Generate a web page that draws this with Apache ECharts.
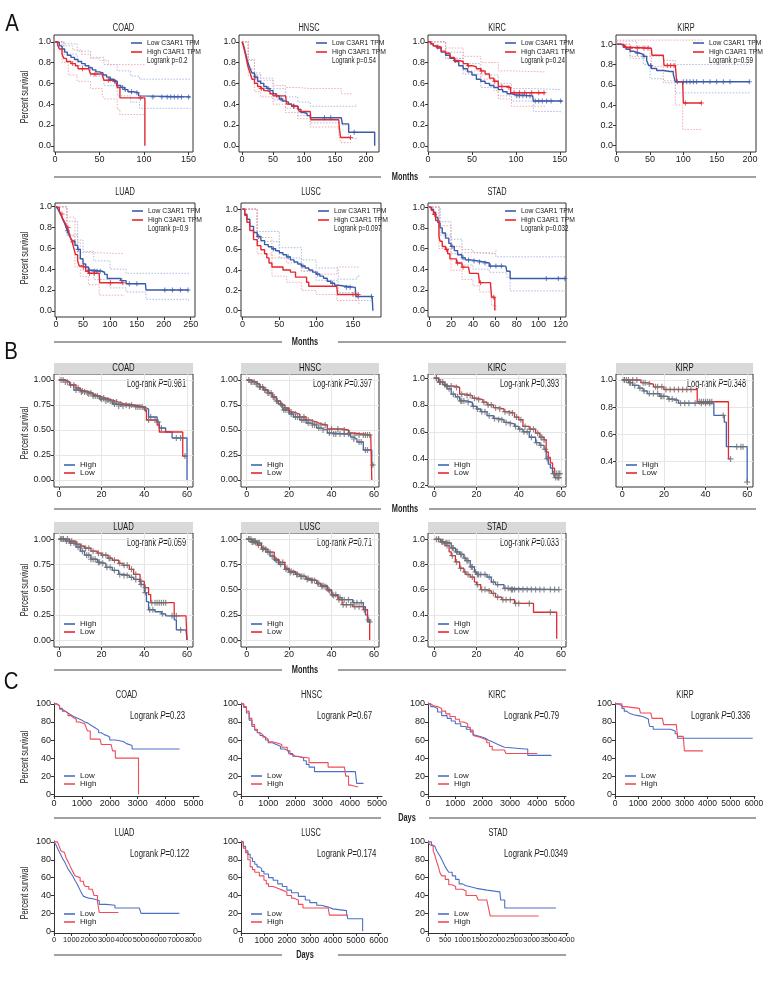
<!DOCTYPE html>
<html><head><meta charset="utf-8">
<script src="https://cdn.jsdelivr.net/npm/echarts@6/dist/echarts.min.js"></script>
<style>html,body{margin:0;padding:0;background:#fff}#c{width:780px;height:984px}</style>
</head><body><div id="c"></div>
<script>
// ---------------- DATA ----------------
const cancers = ['COAD','HNSC','KIRC','KIRP','LUAD','LUSC','STAD'];
const A_pvals = ['0.2','0.54','0.24','0.59','0.9','0.097','0.032'];
const B_pvals = ['0.981','0.397','0.393','0.348','0.059','0.71','0.033'];
const C_pvals = ['0.23','0.67','0.79','0.336','0.122','0.174','0.0349'];

// Panel A (GEPIA, months, fraction)
const A_COAD_low = [[0,1],[2,0.99],[5,0.96],[8,0.93],[11,0.9],[14,0.87],[18,0.85],[22,0.83],[26,0.81],[30,0.79],[34,0.77],[38,0.75],[42,0.73],[46,0.71],[50,0.7],[54,0.68],[58,0.66],[62,0.64],[66,0.62],[70,0.58],[74,0.56],[78,0.54],[82,0.52],[88,0.51],[94,0.48],[96,0.47],[152,0.47]];
const A_COAD_high = [[0,1],[3,0.97],[5,0.93],[8,0.88],[10,0.84],[13,0.81],[18,0.79],[23,0.77],[26,0.74],[38,0.74],[40,0.69],[53,0.69],[55,0.63],[68,0.63],[70,0.56],[73,0.46],[101,0.46],[101,0]];
const A_COAD_lowU = [[0,1],[10,0.98],[25,0.91],[40,0.85],[55,0.78],[70,0.72],[85,0.67],[95,0.64],[152,0.64]];
const A_COAD_lowL = [[0,1],[10,0.88],[25,0.77],[40,0.67],[55,0.58],[70,0.48],[85,0.42],[95,0.36],[152,0.36]];
const A_COAD_highU = [[0,1],[10,0.96],[20,0.92],[30,0.88],[40,0.84],[50,0.82],[60,0.78],[101,0.78]];
const A_COAD_highL = [[0,1],[8,0.8],[15,0.68],[25,0.62],[40,0.55],[53,0.5],[55,0.45],[70,0.35],[73,0.3],[101,0.3]];
const A_COAD_lowCens = [62,67,76,79,86,92,110,120,126,130,134,138,142,150];
const A_COAD_highCens = [20,31,45,60,96];

const A_HNSC_low = [[0,1],[2,0.97],[4,0.93],[6,0.88],[8,0.83],[10,0.79],[13,0.74],[16,0.7],[20,0.66],[25,0.62],[30,0.6],[35,0.57],[40,0.55],[45,0.53],[50,0.5],[55,0.48],[60,0.45],[65,0.43],[70,0.42],[75,0.4],[80,0.38],[90,0.35],[95,0.32],[100,0.31],[105,0.29],[110,0.27],[160,0.27],[162,0.21],[172,0.13],[214,0.13],[214,0]];
const A_HNSC_high = [[0,1],[2,0.96],[4,0.91],[6,0.86],[8,0.8],[10,0.75],[13,0.7],[16,0.64],[20,0.6],[25,0.57],[30,0.55],[35,0.53],[40,0.52],[45,0.5],[50,0.48],[70,0.48],[72,0.4],[80,0.38],[90,0.38],[92,0.33],[110,0.33],[111,0.25],[156,0.25],[157,0.17],[159,0.08],[176,0.08]];
const A_HNSC_lowU = [[0,1],[10,0.83],[20,0.7],[30,0.65],[50,0.55],[70,0.47],[90,0.42],[110,0.38],[160,0.38],[184,0.4]];
const A_HNSC_lowL = [[0,1],[10,0.74],[20,0.61],[30,0.55],[50,0.44],[70,0.36],[90,0.29],[110,0.22],[160,0.2],[172,0.07],[184,0.06]];
const A_HNSC_highU = [[0,1],[10,0.82],[20,0.68],[30,0.63],[50,0.58],[70,0.56],[90,0.55],[110,0.55],[160,0.5],[176,0.49]];
const A_HNSC_highL = [[0,1],[10,0.67],[20,0.52],[30,0.47],[50,0.4],[70,0.32],[90,0.26],[110,0.18],[156,0.12],[159,0.03],[176,0.03]];
const A_HNSC_lowCens = [22,42,63,83,133,143,181];
const A_HNSC_highCens = [31,56,84,175];

const A_KIRC_low = [[0,1],[3,0.98],[6,0.96],[10,0.94],[15,0.9],[20,0.87],[25,0.84],[30,0.81],[35,0.77],[40,0.74],[45,0.71],[50,0.68],[55,0.64],[60,0.62],[65,0.6],[70,0.58],[75,0.56],[80,0.54],[85,0.52],[90,0.5],[95,0.49],[100,0.48],[119,0.48],[120,0.43],[152,0.42]];
const A_KIRC_high = [[0,1],[3,0.98],[6,0.96],[10,0.95],[15,0.91],[20,0.89],[25,0.85],[30,0.82],[35,0.81],[40,0.79],[45,0.77],[50,0.76],[55,0.74],[60,0.72],[65,0.69],[70,0.65],[75,0.62],[80,0.57],[90,0.56],[94,0.51],[133,0.51]];
const A_KIRC_lowU = [[0,1],[20,0.9],[40,0.79],[60,0.68],[80,0.6],[95,0.55],[120,0.54],[152,0.54]];
const A_KIRC_lowL = [[0,1],[20,0.84],[40,0.69],[60,0.56],[80,0.48],[95,0.43],[120,0.33],[152,0.32]];
const A_KIRC_highU = [[0,1],[20,0.94],[40,0.86],[60,0.8],[80,0.72],[95,0.71],[133,0.7]];
const A_KIRC_highL = [[0,1],[20,0.84],[40,0.72],[60,0.64],[75,0.53],[80,0.45],[95,0.38],[133,0.37]];
const A_KIRC_lowCens = [101,104,108,112,116,122,126,130,135,140,151];
const A_KIRC_highCens = [11,31,46,61,76,84,92,98,104,110,118,126,132];

const A_KIRP_low = [[0,1],[5,0.99],[10,0.97],[15,0.95],[20,0.93],[25,0.92],[30,0.91],[35,0.9],[40,0.88],[45,0.84],[48,0.79],[52,0.76],[60,0.74],[70,0.73],[80,0.73],[85,0.7],[88,0.63],[200,0.63]];
const A_KIRP_high = [[0,1],[8,0.99],[12,0.97],[18,0.96],[52,0.96],[53,0.89],[70,0.89],[71,0.79],[88,0.79],[90,0.63],[99,0.63],[100,0.42],[128,0.42]];
const A_KIRP_lowU = [[0,1.03],[30,0.98],[50,0.88],[70,0.84],[88,0.8],[200,0.8]];
const A_KIRP_lowL = [[0,1],[20,0.86],[40,0.8],[50,0.66],[70,0.62],[88,0.52],[200,0.51]];
const A_KIRP_highU = [[0,1.04],[128,1.04]];
const A_KIRP_highL = [[0,1],[20,0.88],[52,0.78],[70,0.64],[88,0.4],[99,0.16],[128,0.16]];
const A_KIRP_lowCens = [31,41,51,91,100,105,110,115,120,130,140,150,160,170,199];
const A_KIRP_highCens = [13,21,31,41,47,76,81,86,103,127];

const A_LUAD_low = [[0,1],[3,0.98],[6,0.95],[9,0.92],[12,0.88],[15,0.85],[18,0.81],[21,0.77],[24,0.73],[27,0.7],[30,0.67],[35,0.63],[40,0.59],[45,0.5],[50,0.45],[55,0.42],[60,0.39],[70,0.38],[85,0.37],[90,0.35],[95,0.31],[110,0.31],[120,0.29],[130,0.26],[166,0.26],[167,0.2],[246,0.2]];
const A_LUAD_high = [[0,1],[3,0.99],[6,0.96],[9,0.93],[12,0.89],[15,0.86],[18,0.83],[21,0.8],[24,0.75],[27,0.7],[30,0.66],[33,0.6],[36,0.54],[40,0.48],[43,0.43],[50,0.42],[55,0.38],[60,0.36],[80,0.36],[81,0.27],[125,0.27]];
const A_LUAD_lowU = [[0,1],[20,0.86],[40,0.68],[50,0.57],[70,0.48],[100,0.4],[130,0.36],[246,0.35]];
const A_LUAD_lowL = [[0,1],[20,0.73],[40,0.5],[50,0.38],[70,0.3],[100,0.22],[130,0.18],[167,0.11],[246,0.1]];
const A_LUAD_highU = [[0,1],[20,0.9],[35,0.66],[45,0.56],[60,0.55],[125,0.55]];
const A_LUAD_highL = [[0,1],[20,0.72],[35,0.42],[45,0.33],[60,0.25],[80,0.15],[125,0.14]];
const A_LUAD_lowCens = [21,41,62,71,76,82,122,136,150,202,216,231,245];
const A_LUAD_highCens = [11,22,31,51,62,71,101,124];

const A_LUSC_low = [[0,1],[3,0.95],[6,0.9],[10,0.83],[15,0.77],[20,0.73],[25,0.69],[30,0.65],[35,0.63],[40,0.61],[45,0.59],[50,0.57],[55,0.55],[60,0.53],[65,0.5],[70,0.48],[75,0.46],[80,0.44],[85,0.42],[90,0.4],[95,0.38],[100,0.36],[105,0.34],[110,0.32],[115,0.29],[120,0.27],[125,0.25],[130,0.24],[140,0.23],[153,0.22],[154,0.14],[176,0.13],[177,0]];
const A_LUSC_high = [[0,1],[3,0.94],[6,0.87],[10,0.79],[15,0.7],[20,0.64],[25,0.6],[30,0.56],[33,0.52],[36,0.47],[40,0.43],[50,0.43],[55,0.4],[65,0.38],[72,0.33],[87,0.28],[90,0.24],[128,0.24],[129,0.16],[158,0.16]];
const A_LUSC_lowU = [[0,1],[20,0.78],[50,0.62],[80,0.5],[100,0.42],[130,0.31],[155,0.33],[158,0.35]];
const A_LUSC_lowL = [[0,1],[20,0.68],[50,0.52],[80,0.39],[100,0.3],[130,0.18],[154,0.1],[176,0.08]];
const A_LUSC_highU = [[0,1],[20,0.72],[40,0.52],[60,0.47],[80,0.39],[100,0.36],[128,0.36],[129,0.43],[158,0.43]];
const A_LUSC_highL = [[0,1],[20,0.56],[40,0.34],[60,0.28],[80,0.2],[100,0.16],[128,0.1],[158,0.06]];
const A_LUSC_lowCens = [22,42,62,82,102,122,141,146,157,175];
const A_LUSC_highCens = [150,157];

const A_STAD_low = [[0,1],[2,0.98],[4,0.95],[6,0.9],[8,0.85],[10,0.8],[12,0.75],[15,0.7],[18,0.65],[20,0.62],[23,0.58],[26,0.54],[30,0.51],[33,0.49],[38,0.48],[45,0.47],[50,0.46],[55,0.43],[70,0.43],[71,0.38],[74,0.31],[125,0.31]];
const A_STAD_high = [[0,1],[2,0.97],[4,0.93],[6,0.87],[9,0.72],[10,0.67],[12,0.62],[15,0.59],[17,0.55],[19,0.5],[22,0.5],[25,0.46],[30,0.42],[36,0.42],[37,0.36],[45,0.36],[46,0.27],[56,0.27],[57,0.13],[60,0.13],[60,0]];
const A_STAD_lowU = [[0,1],[10,0.86],[20,0.69],[30,0.59],[40,0.56],[55,0.55],[61,0.52],[125,0.52]];
const A_STAD_lowL = [[0,1],[10,0.73],[20,0.55],[30,0.44],[40,0.4],[55,0.37],[71,0.32],[74,0.19],[125,0.19]];
const A_STAD_highU = [[0,1],[9,0.82],[20,0.62],[30,0.56],[40,0.55],[57,0.55],[61,0.58]];
const A_STAD_highL = [[0,1],[9,0.6],[20,0.39],[30,0.3],[40,0.24],[46,0.18],[57,0.05],[61,0]];
const A_STAD_lowCens = [21,31,36,41,46,51,56,61,66,107,118,124];
const A_STAD_highCens = [5,16,26,31,47,59];

// Panel B (months, fraction)
const B_COAD_high = [[0,1],[3,0.98],[5,0.95],[7,0.9],[10,0.88],[13,0.86],[16,0.84],[19,0.81],[22,0.79],[25,0.76],[27,0.74],[35,0.73],[40,0.71],[42,0.63],[46,0.58],[47,0.52],[50,0.48],[53,0.42],[60,0]];
const B_COAD_low = [[0,1],[3,0.98],[5,0.95],[8,0.92],[10,0.89],[13,0.87],[16,0.84],[19,0.82],[22,0.8],[25,0.78],[28,0.76],[31,0.75],[35,0.73],[40,0.7],[41,0.6],[46,0.55],[47,0.48],[58,0.24],[60,0.24]];
const B_COAD_highCens = [1,3,5.5,8,10.5,12,14,16,18,20,22,24,26,28,30,33,36,38,40.5,43,46.5,48,55,57];
const B_COAD_lowCens = [2,4,7,9,11,13.5,15,17,19.5,21,23,25.5,27,29,31.5,34,37,39,42,45,59];

const B_HNSC_high = [[0,1],[2,0.98],[4,0.96],[6,0.93],[8,0.9],[10,0.87],[12,0.83],[14,0.79],[15,0.76],[17,0.7],[20,0.66],[22,0.63],[25,0.6],[28,0.57],[30,0.55],[33,0.52],[35,0.5],[38,0.47],[40,0.46],[47,0.46],[49,0.43],[50,0.41],[52,0.38],[55,0.3],[58,0.3],[59,0.15],[60,0.15]];
const B_HNSC_low = [[0,1],[2,0.98],[4,0.96],[6,0.93],[8,0.9],[10,0.87],[12,0.83],[14,0.79],[16,0.75],[18,0.72],[20,0.68],[22,0.66],[25,0.63],[28,0.6],[30,0.58],[33,0.56],[35,0.55],[38,0.51],[45,0.5],[48,0.47],[50,0.45],[58.5,0.45],[59,0]];
const B_HNSC_highCens = [1,2.5,3.5,5,6.5,7.5,9,10.5,11.5,13,14.5,16,17.5,18.5,19.5,21,23,24,26,27,29,31,32,34,36,39,41,42,44,46,48,50.5,53,54,56,57,59.5];
const B_HNSC_lowCens = [2,4.5,6,8.5,10,12.5,14,16.5,18,21,23,25,27,29,31,33,35,37,40,43,46,48.5,51,53,55,56,57,58];

const B_KIRC_high = [[0,1],[2,0.97],[4,0.95],[6,0.92],[8,0.88],[10,0.86],[12,0.83],[15,0.82],[18,0.79],[20,0.77],[22,0.75],[25,0.72],[28,0.7],[30,0.69],[33,0.67],[35,0.66],[38,0.64],[40,0.62],[42,0.6],[45,0.56],[48,0.52],[50,0.5],[52,0.47],[53,0.4],[54,0.36],[55,0.33],[56,0.29],[60,0.29]];
const B_KIRC_low = [[0,1],[2,0.97],[5,0.94],[10,0.93],[12,0.88],[15,0.87],[18,0.85],[20,0.84],[23,0.82],[25,0.8],[28,0.78],[30,0.77],[33,0.75],[35,0.74],[38,0.71],[40,0.69],[42,0.64],[45,0.62],[48,0.59],[50,0.56],[52,0.54],[53,0.45],[54,0.41],[55,0.37],[56,0.33],[57,0.26],[60,0.26]];
const B_KIRC_highCens = [1,2.5,3,5,7,9,11,12.5,13,14,16,18.5,20.5,22.5,24,26,28.5,30.5,32,34,36,38.5,40.5,42.5,44,46,48.5,50.5,52.5,53.5,56.5,57,58,59,59.5];
const B_KIRC_lowCens = [1,2.5,4,6,8,10.5,13,15.5,17,19,21,23.5,25.5,27,29,31,33.5,35.5,37,39,41,43,45.5,47,49,50.5,51,52,57.5,58.5,59];

const B_KIRP_high = [[0,1],[3,0.98],[5,0.96],[8,0.94],[10,0.92],[12,0.9],[18,0.88],[22,0.86],[25,0.85],[27,0.83],[43,0.83],[44,0.74],[48,0.74],[49,0.69],[50,0.51],[59,0.51],[60,0.25]];
const B_KIRP_low = [[0,1],[8,1],[9,0.98],[12,0.97],[15,0.95],[20,0.93],[35,0.93],[36,0.84],[50,0.84],[51,0.42],[52,0.42]];
const B_KIRP_highCens = [1,2,3.5,4,6,8.5,10.5,13,15,17,18.5,19,20,22.5,24,26,28,30,32,35,38,40,42,48.5,55,57,58,60];
const B_KIRP_lowCens = [1,3,5,7,10,11,13,16,17,19,21,23,25,27,29,31,33,37,38,39,40,41,42,43,52];

const B_LUAD_high = [[0,1],[3,0.98],[5,0.96],[8,0.92],[10,0.88],[12,0.84],[15,0.8],[18,0.77],[20,0.76],[22,0.72],[25,0.69],[28,0.65],[30,0.64],[33,0.62],[35,0.6],[38,0.55],[40,0.47],[41,0.38],[42,0.3],[45,0.28],[48,0.26],[50,0.24],[54,0.2],[55,0.1],[59.5,0.1],[60,0]];
const B_LUAD_low = [[0,1],[5,0.98],[8,0.95],[10,0.93],[12,0.91],[15,0.88],[18,0.86],[20,0.84],[23,0.81],[25,0.79],[28,0.76],[30,0.74],[33,0.7],[35,0.65],[38,0.58],[40,0.52],[42,0.45],[43,0.37],[53,0.37],[54,0.24],[59.5,0.24],[60,0]];
const B_LUAD_highCens = [1,2,3.5,5.5,7,9,11,13,14,15,16,17,18.5,19,20.5,22.5,24,26,28.5,30.5,32,34,36,38.5,40.5,42.5,44,48.5,53,57];
const B_LUAD_lowCens = [1,2,4,6,8.5,10.5,12.5,14,16,18.5,20.5,22,23.5,24,26,28.5,30.5,32,34,36,38.5,40.5,43.5,45,46,47,48,49,50,55];

const B_LUSC_high = [[0,1],[3,0.98],[5,0.96],[7,0.91],[9,0.87],[11,0.83],[13,0.79],[15,0.75],[18,0.7],[20,0.67],[23,0.65],[25,0.63],[28,0.6],[30,0.59],[33,0.56],[35,0.54],[38,0.5],[40,0.45],[43,0.42],[45,0.4],[50,0.37],[55,0.33],[56,0.25],[57,0.18],[58.5,0.18]];
const B_LUSC_low = [[0,1],[2,0.97],[5,0.94],[7,0.9],[10,0.87],[13,0.8],[15,0.77],[18,0.71],[20,0.68],[23,0.65],[25,0.63],[28,0.61],[30,0.59],[33,0.56],[35,0.53],[38,0.49],[40,0.44],[43,0.4],[45,0.35],[50,0.33],[55,0.3],[57,0.2],[58,0.2],[58,0]];
const B_LUSC_highCens = [1,2,3.5,4,5.5,6,8,10,12,14,16,18.5,20.5,22,24,26,28.5,30.5,32,34,36,38.5,40.5,42,44,46,48,50.5,52,54,58];
const B_LUSC_lowCens = [1,2.5,3,4,5.5,7.5,9,11,13.5,15.5,17,19,21,23.5,25.5,27,29,31,33.5,35.5,37,39,41,43.5,45.5,47,49,51,53,55.5,57.5];

const B_STAD_high = [[0,1],[3,0.98],[5,0.97],[8,0.93],[10,0.9],[12,0.88],[14,0.85],[15,0.83],[17,0.78],[19,0.74],[20,0.72],[25,0.7],[27,0.66],[29,0.64],[33,0.61],[36,0.6],[59,0.6]];
const B_STAD_low = [[0,1],[3,0.98],[5,0.95],[7,0.9],[8,0.87],[10,0.82],[12,0.77],[14,0.74],[15,0.72],[17,0.7],[19,0.66],[20,0.64],[22,0.6],[25,0.59],[27,0.57],[29,0.54],[32,0.52],[38,0.49],[47,0.42],[58,0.42],[58,0.21]];
const B_STAD_highCens = [1,2,3.5,4,5.5,6,7,8.5,9,10.5,11,12.5,13,14.5,15.5,16,17.5,18,19.5,20.5,21,22,24,26,28,30,33.5,35,36.5,37,38,40,42,44,46,48,50,52,55,57,59];
const B_STAD_lowCens = [2,4,6,8.5,10.5,12.5,14.5,16,18,20.5,22.5,24,26,28,30,32.5,34,36,38.5,40,45,55];

// Panel C (days, percent)
const C_COAD_low = [[0,100],[100,98],[200,95],[300,92],[400,90],[500,88],[600,86],[700,84],[850,82],[1000,80],[1100,79],[1200,77],[1300,75],[1400,73],[1500,71],[1600,68],[1700,66],[1800,65],[1900,63],[2000,60],[2200,59],[2400,58],[2500,56],[2600,54],[2800,50],[4500,50]];
const C_COAD_high = [[0,100],[100,98],[200,94],[300,92],[400,90],[500,87],[600,85],[700,83],[800,80],[900,78],[1100,78],[1150,74],[1200,70],[1300,61],[1650,61],[1700,55],[2050,55],[2100,48],[2200,40],[3030,40],[3030,0]];
const C_HNSC_low = [[0,100],[100,96],[200,90],[300,82],[400,75],[500,71],[600,68],[700,65],[800,63],[900,60],[1000,57],[1150,55],[1300,53],[1450,50],[1600,48],[1750,45],[1900,42],[2100,40],[2300,37],[2400,33],[2500,30],[2700,25],[4200,25],[4250,12],[4500,12]];
const C_HNSC_high = [[0,100],[100,97],[200,92],[300,84],[400,77],[500,72],[600,68],[700,66],[800,63],[900,61],[1000,58],[1150,57],[1300,55],[1500,52],[1700,48],[1800,44],[1900,42],[2000,40],[2500,35],[3200,30],[3800,30],[3850,20],[3950,10],[4050,8],[4300,8]];
const C_KIRC_low = [[0,100],[100,97],[200,95],[350,91],[500,87],[700,84],[850,81],[1000,78],[1200,75],[1400,72],[1550,69],[1650,66],[1700,64],[1900,63],[2000,62],[2100,60],[2200,58],[2350,56],[2500,54],[2650,52],[2800,50],[3550,50],[3650,43],[4500,42]];
const C_KIRC_high = [[0,100],[100,98],[200,97],[350,95],[500,92],[650,89],[800,86],[1000,83],[1150,80],[1300,78],[1450,74],[1550,71],[1650,65],[1700,63],[1900,62],[2000,60],[2150,57],[2250,53],[2350,49],[2800,49],[2850,45],[4000,45]];
const C_KIRP_low = [[0,100],[150,98],[300,95],[400,92],[500,90],[600,88],[800,87],[1000,86],[1200,85],[1300,83],[1450,80],[1500,75],[1650,72],[2300,72],[2400,70],[2600,67],[2700,62],[5950,62]];
const C_KIRP_high = [[0,100],[300,97],[450,95],[1050,95],[1100,90],[1550,90],[1600,84],[2050,84],[2100,77],[2650,77],[2700,64],[2950,64],[3000,48],[3800,48]];
const C_LUAD_low = [[0,100],[100,97],[200,93],[300,89],[400,85],[500,81],[600,78],[700,74],[800,70],[900,67],[1000,64],[1100,61],[1200,57],[1300,54],[1400,50],[1500,46],[1600,42],[1700,39],[1800,37],[2000,36],[2300,35],[2400,34],[2600,30],[3000,29],[3500,26],[4900,26],[5000,20],[7200,20]];
const C_LUAD_high = [[0,100],[200,98],[300,95],[400,90],[500,88],[600,86],[700,82],[800,78],[900,74],[1000,70],[1100,66],[1200,62],[1300,60],[1500,56],[1700,53],[1800,50],[2000,47],[2200,45],[2300,40],[2500,33],[2600,21],[3700,21]];
const C_LUSC_low = [[0,100],[100,95],[200,90],[300,86],[400,82],[500,78],[600,75],[700,72],[800,70],[900,67],[1000,64],[1200,60],[1400,57],[1600,53],[1800,50],[2000,46],[2200,43],[2500,39],[2800,35],[3000,32],[3300,29],[3500,27],[3800,25],[4000,23],[4600,20],[4650,14],[5300,14],[5300,0]];
const C_LUSC_high = [[0,100],[100,93],[200,88],[300,80],[400,72],[500,69],[600,66],[800,62],[1000,57],[1100,53],[1200,50],[1400,48],[1600,46],[1800,44],[2000,40],[2200,37],[2300,35],[2500,30],[2700,26],[3800,26],[3850,18],[4650,18]];
const C_STAD_low = [[0,100],[100,97],[150,95],[200,93],[250,90],[300,87],[350,84],[400,80],[450,76],[500,72],[550,69],[600,66],[700,62],[800,58],[900,53],[1000,51],[1100,50],[1200,48],[1400,46],[1700,44],[2080,44],[2100,35],[2220,26],[3700,26]];
const C_STAD_high = [[0,100],[50,97],[100,95],[150,90],[200,85],[250,78],[300,72],[350,65],[400,62],[500,58],[600,52],[700,50],[800,47],[1000,45],[1100,40],[1400,40],[1450,35],[1700,35],[1750,26],[1800,17],[3200,17]];

// tick labels
const A_yTicks = [0,0.2,0.4,0.6,0.8,1.0];
const B_yTicks4 = [0,0.25,0.5,0.75,1.0];
const B_yTicks2 = [0.2,0.4,0.6,0.8,1.0];
const B_yTicksKIRP = [0.4,0.6,0.8,1.0];
const B_xTicks = [0,20,40,60];
const C_yTicks = [0,20,40,60,80,100];

// ---------------- RENDER ----------------
const FONT = "'Liberation Sans Narrow','Liberation Sans',Arial,sans-serif";
const SX = 0.74; // horizontal squeeze for free text (condensed look)
const A_BLUE='#3a5bab', A_RED='#e8262d', A_BLUE_CI='#a3b3de', A_RED_CI='#f3a2a6';
const B_BLUE='#3d67b3', B_RED='#e8262d', CENS='#707070';
const C_BLUE='#4c70c6', C_RED='#f04c5a';
const PLUS='path://M2,0H3V2H5V3H3V5H2V3H0V2H2Z';
function survAt(c,t){let s=c[0][1];for(let i=0;i<c.length;i++){if(c[i][0]<=t)s=c[i][1];else break;}return s;}

const option={animation:false,backgroundColor:'#fff',grid:[],xAxis:[],yAxis:[],series:[],legend:[],graphic:{elements:[]}};
const G=option.graphic.elements;

function addGrid(L,T,W,H,xr,yr,xt,yt,yfmt,kind,xfs){
  const gi=option.grid.length;
  option.grid.push({left:L,top:T,width:W,height:H,show:kind!=='C',borderColor:'#333',borderWidth:1,backgroundColor:'rgba(0,0,0,0)'});
  const lab={fontSize:9,fontFamily:FONT,color:'#222',margin:3};
  option.xAxis.push({gridIndex:gi,type:'value',min:xr[0],max:xr[1],
    axisLine:{show:kind==='C',onZero:false,lineStyle:{color:'#333',width:1}},
    axisTick:{show:true,length:3,customValues:xt,lineStyle:{color:'#333'}},
    axisLabel:Object.assign({},lab,{customValues:xt,formatter:v=>String(v),fontSize:xfs||9}),
    splitLine:{show:kind==='B',lineStyle:{color:'#e6e6e6',width:1}}});
  option.yAxis.push({gridIndex:gi,type:'value',min:yr[0],max:yr[1],
    axisLine:{show:kind==='C',onZero:false,lineStyle:{color:'#333',width:1}},
    axisTick:{show:true,length:3,customValues:yt,lineStyle:{color:'#333'}},
    axisLabel:Object.assign({},lab,{customValues:yt,formatter:yfmt}),
    splitLine:{show:kind==='B',lineStyle:{color:'#e6e6e6',width:1}}});
  return gi;
}
function addLine(gi,data,color,width,name,dotted){
  option.series.push({type:'line',name:name||undefined,xAxisIndex:gi,yAxisIndex:gi,data:data,step:'end',
    showSymbol:false,symbol:'none',silent:true,z:dotted?2:3,
    lineStyle:{color:color,width:width,type:dotted?[1.5,1.5]:'solid'},itemStyle:{color:color}});
}
function addCens(gi,curve,times,color,size){
  option.series.push({type:'scatter',xAxisIndex:gi,yAxisIndex:gi,silent:true,z:4,
    data:times.map(t=>[t,survAt(curve,t)]),symbol:PLUS,symbolSize:size,itemStyle:{color:color}});
}
function text(x,y,str,opt,sx){
  G.push({type:'text',x:x,y:y,scaleX:sx===undefined?SX:sx,silent:true,style:Object.assign({text:str,fontSize:10,fontFamily:FONT,fill:'#222',align:'center',verticalAlign:'middle'},opt||{})});
}
function hline(x1,x2,y){G.push({type:'line',silent:true,shape:{x1:x1,y1:y,x2:x2,y2:y},style:{stroke:'#444',lineWidth:1}});}
function ylab(y){G.push({type:'text',x:25,y:y,rotation:Math.PI/2,scaleX:SX,silent:true,style:{text:'Percent survival',fontSize:10,fontFamily:FONT,fill:'#222',align:'center',verticalAlign:'middle'}});}
function sepLabel(word,cx,y,l1,l2,r1,r2){hline(l1,l2,y);hline(r1,r2,y);text(cx,y,word,{fontWeight:'bold',fontSize:10});}
function legend(L,T,items,fs,lh,iw){
  option.legend.push({orient:'vertical',left:L,top:T,padding:0,itemWidth:iw,itemHeight:1.6,itemGap:0,icon:'rect',selectedMode:false,
    textStyle:{fontSize:fs,fontFamily:FONT,color:'#222',lineHeight:lh},
    data:items.map(it=>({name:it[0],itemStyle:{color:it[1],borderColor:it[1],borderWidth:0}}))});
}
function richP(x,y,pre,p,fs,align){
  G.push({type:'text',x:x,y:y,scaleX:SX,silent:true,style:{text:'{a|'+pre+'}{i|P}{a|='+p+'}',align:align,verticalAlign:'middle',
    rich:{a:{fontSize:fs,fontFamily:FONT,fill:'#222'},i:{fontSize:fs,fontFamily:FONT,fill:'#222',fontStyle:'italic'}}}});
}

// ---- Section A ----
const A_data = {
  COAD:[A_COAD_low,A_COAD_high,A_COAD_lowU,A_COAD_lowL,A_COAD_highU,A_COAD_highL,A_COAD_lowCens,A_COAD_highCens],
  HNSC:[A_HNSC_low,A_HNSC_high,A_HNSC_lowU,A_HNSC_lowL,A_HNSC_highU,A_HNSC_highL,A_HNSC_lowCens,A_HNSC_highCens],
  KIRC:[A_KIRC_low,A_KIRC_high,A_KIRC_lowU,A_KIRC_lowL,A_KIRC_highU,A_KIRC_highL,A_KIRC_lowCens,A_KIRC_highCens],
  KIRP:[A_KIRP_low,A_KIRP_high,A_KIRP_lowU,A_KIRP_lowL,A_KIRP_highU,A_KIRP_highL,A_KIRP_lowCens,A_KIRP_highCens],
  LUAD:[A_LUAD_low,A_LUAD_high,A_LUAD_lowU,A_LUAD_lowL,A_LUAD_highU,A_LUAD_highL,A_LUAD_lowCens,A_LUAD_highCens],
  LUSC:[A_LUSC_low,A_LUSC_high,A_LUSC_lowU,A_LUSC_lowL,A_LUSC_highU,A_LUSC_highL,A_LUSC_lowCens,A_LUSC_highCens],
  STAD:[A_STAD_low,A_STAD_high,A_STAD_lowU,A_STAD_lowL,A_STAD_highU,A_STAD_highL,A_STAD_lowCens,A_STAD_highCens]
};
const A_layout = [
  {L:54,T:35,W:139,H:117,xr:[-1,155],yr:[-0.06,1.065],xt:[0,50,100,150],ty:28},
  {L:239,T:35,W:140,H:117,xr:[-5,221],yr:[-0.06,1.065],xt:[0,50,100,150,200],ty:28},
  {L:428,T:35,W:138,H:117,xr:[0,157],yr:[-0.06,1.065],xt:[0,50,100,150],ty:28},
  {L:616,T:35,W:140,H:117,xr:[-1,209],yr:[-0.062,1.09],xt:[0,50,100,150,200],ty:28},
  {L:55,T:203,W:140,H:114,xr:[-2,258],yr:[-0.06,1.036],xt:[0,50,100,150,200,250],ty:192},
  {L:241,T:203,W:140,H:114,xr:[-2,188],yr:[-0.062,1.06],xt:[0,50,100,150],ty:192},
  {L:428,T:203,W:138,H:114,xr:[-1,125],yr:[-0.062,1.04],xt:[0,20,40,60,80,100,120],ty:192}
];
cancers.forEach((c,i)=>{
  const p=A_layout[i], d=A_data[c];
  const gi=addGrid(p.L,p.T,p.W,p.H,p.xr,p.yr,p.xt,A_yTicks,v=>v.toFixed(1),'A');
  addLine(gi,d[2],A_BLUE_CI,0.9,null,true); addLine(gi,d[3],A_BLUE_CI,0.9,null,true);
  addLine(gi,d[4],A_RED_CI,0.9,null,true); addLine(gi,d[5],A_RED_CI,0.9,null,true);
  addLine(gi,d[0],A_BLUE,1.4,'Low C3AR1 TPM'); addLine(gi,d[1],A_RED,1.4,'High C3AR1 TPM');
  addCens(gi,d[0],d[6],A_BLUE,5); addCens(gi,d[1],d[7],A_RED,5);
  text(p.L+p.W/2,p.ty,c,{fontSize:10});
  legend(p.L+77,p.T+3.5,[['Low C3AR1 TPM',A_BLUE],['High C3AR1 TPM',A_RED]],6.8,9,11);
  text(p.L+93,p.T+26,'Logrank p='+A_pvals[i],{fontSize:8.5,align:'left'});
});

// ---- Section B ----
const B_data = {
  COAD:[B_COAD_high,B_COAD_low,B_COAD_highCens,B_COAD_lowCens],
  HNSC:[B_HNSC_high,B_HNSC_low,B_HNSC_highCens,B_HNSC_lowCens],
  KIRC:[B_KIRC_high,B_KIRC_low,B_KIRC_highCens,B_KIRC_lowCens],
  KIRP:[B_KIRP_high,B_KIRP_low,B_KIRP_highCens,B_KIRP_lowCens],
  LUAD:[B_LUAD_high,B_LUAD_low,B_LUAD_highCens,B_LUAD_lowCens],
  LUSC:[B_LUSC_high,B_LUSC_low,B_LUSC_highCens,B_LUSC_lowCens],
  STAD:[B_STAD_high,B_STAD_low,B_STAD_highCens,B_STAD_lowCens]
};
const B_layout = [
  {L:54,T:374,W:139,H:113,xr:[-2.3,62.8],yr:[-0.07,1.06],yt:B_yTicks4,f:2},
  {L:241,T:374,W:138,H:113,xr:[-2.7,62.4],yr:[-0.07,1.06],yt:B_yTicks4,f:2},
  {L:428,T:374,W:138,H:113,xr:[-3,62.4],yr:[0.19,1.03],yt:B_yTicks2,f:1},
  {L:616,T:374,W:137,H:113,xr:[-3,62.8],yr:[0.214,1.044],yt:B_yTicksKIRP,f:1},
  {L:54,T:533,W:139,H:114,xr:[-2.3,62.8],yr:[-0.069,1.06],yt:B_yTicks4,f:2},
  {L:241,T:533,W:138,H:114,xr:[-2.7,62.4],yr:[-0.069,1.06],yt:B_yTicks4,f:2},
  {L:428,T:533,W:138,H:114,xr:[-3,62.4],yr:[0.144,1.05],yt:B_yTicks2,f:1}
];
cancers.forEach((c,i)=>{
  const p=B_layout[i], d=B_data[c];
  const gi=addGrid(p.L,p.T,p.W,p.H,p.xr,p.yr,B_xTicks,p.yt,v=>v.toFixed(p.f),'B');
  addLine(gi,d[0],B_BLUE,1.3,'High'); addLine(gi,d[1],B_RED,1.3,'Low');
  addCens(gi,d[0],d[2],CENS,6); addCens(gi,d[1],d[3],CENS,6);
  G.push({type:'rect',silent:true,shape:{x:p.L,y:p.T-11,width:p.W,height:11},style:{fill:'#d9d9d9'}});
  text(p.L+p.W/2,p.T-5.5,c,{fontSize:10.5,fill:'#1a1a1a'});
  richP(p.L+p.W-7,p.T+10,'Log-rank ',B_pvals[i],10,'right');
  legend(p.L+10,p.T+87,[['High',B_BLUE],['Low',B_RED]],8,8,11);
});

// ---- Section C ----
const C_data = {
  COAD:[C_COAD_low,C_COAD_high], HNSC:[C_HNSC_low,C_HNSC_high], KIRC:[C_KIRC_low,C_KIRC_high],
  KIRP:[C_KIRP_low,C_KIRP_high], LUAD:[C_LUAD_low,C_LUAD_high], LUSC:[C_LUSC_low,C_LUSC_high], STAD:[C_STAD_low,C_STAD_high]
};
const C_layout = [
  {L:54,T:703,W:145,H:93,xr:[0,5200],yr:[-2,101],xt:[0,1000,2000,3000,4000,5000],ty:695,fs:9},
  {L:241,T:703,W:141,H:93,xr:[0,5180],yr:[-2,101],xt:[0,1000,2000,3000,4000,5000],ty:695,fs:9},
  {L:428,T:703,W:138,H:93,xr:[0,5050],yr:[-2,101],xt:[0,1000,2000,3000,4000,5000],ty:695,fs:9},
  {L:615,T:703,W:140,H:93,xr:[0,6050],yr:[-2,101],xt:[0,1000,2000,3000,4000,5000,6000],ty:695,fs:8.5},
  {L:54,T:841,W:141,H:92,xr:[0,8100],yr:[-2,101],xt:[0,1000,2000,3000,4000,5000,6000,7000,8000],ty:833,fs:7.5},
  {L:241,T:841,W:140,H:92,xr:[0,6100],yr:[-2,101],xt:[0,1000,2000,3000,4000,5000,6000],ty:833,fs:8.5},
  {L:428,T:841,W:140,H:92,xr:[0,4050],yr:[-2,101],xt:[0,500,1000,1500,2000,2500,3000,3500,4000],ty:833,fs:7.5}
];
cancers.forEach((c,i)=>{
  const p=C_layout[i], d=C_data[c];
  const gi=addGrid(p.L,p.T,p.W,p.H,p.xr,p.yr,p.xt,C_yTicks,v=>String(v),'C',p.fs);
  addLine(gi,d[0],C_BLUE,1.1,'Low'); addLine(gi,d[1],C_RED,1.1,'High');
  text(p.L+p.W/2,p.ty,c,{fontSize:10});
  richP(p.L+76,p.T+13,'Logrank ',C_pvals[i],10.5,'left');
  legend(p.L+10,p.T+69,[['Low',C_BLUE],['High',C_RED]],8,7.6,11);
});

// ---- decorations ----
text(12,24,'A',{fontSize:24,fill:'#111'},0.85);
text(11,352,'B',{fontSize:24,fill:'#111'},0.85);
text(11,682,'C',{fontSize:24,fill:'#111'},0.85);
[97,258,433,590,757,893].forEach(ylab);
sepLabel('Months',405,177,54,381,429,756);
sepLabel('Months',305,342,54,282,338,566);
sepLabel('Months',405,509,54,381,429,756);
sepLabel('Months',305,670,54,282,338,566);
sepLabel('Days',407,818,54,381,429,756);
sepLabel('Days',305,955,54,282,338,566);

const chart=echarts.init(document.getElementById('c'),null,{renderer:'canvas',width:780,height:984});
chart.setOption(option);
</script></body></html>
